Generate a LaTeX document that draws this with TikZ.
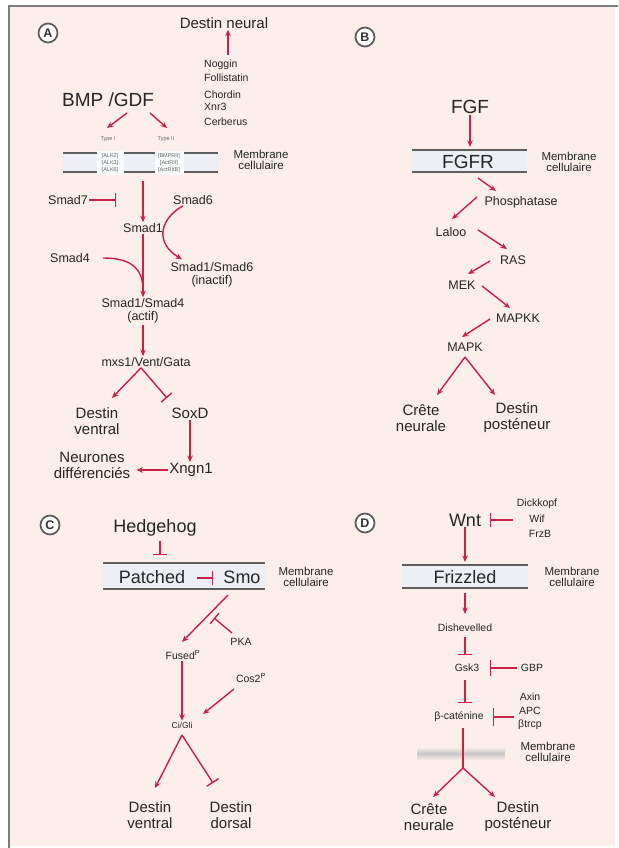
\documentclass[tikz,border=0pt]{standalone}
\usepackage{fontspec}
\setmainfont{Liberation Sans}
\usetikzlibrary{arrows.meta,calc}
\definecolor{bgc}{RGB}{252,238,234}
\definecolor{rd}{RGB}{204,32,72}
\definecolor{tx}{RGB}{38,38,38}
\definecolor{memf}{RGB}{236,239,243}
\definecolor{meml}{RGB}{95,95,95}
\definecolor{frm}{RGB}{125,125,125}
\begin{document}
\begin{tikzpicture}[x=1pt,y=-1pt,
 lab/.style={text=tx,inner sep=1pt,align=center},
 fA/.style={lab,font=\fontsize{19}{21}\selectfont},
 fB/.style={lab,font=\fontsize{15}{16}\selectfont},
 fC/.style={lab,font=\fontsize{12.5}{13.5}\selectfont},
 fD/.style={lab,font=\fontsize{10.5}{12}\selectfont},
 fE/.style={lab,font=\fontsize{8.5}{10}\selectfont},
 fM/.style={lab,font=\fontsize{11.5}{10.5}\selectfont},
 fS/.style={lab,inner sep=0.5pt,font=\fontsize{5.5}{6}\selectfont,text=black!60},
 circlab/.style={circle,draw=black!65,line width=1.7pt,fill=white,minimum size=19pt,inner sep=0pt,text=black!80,font=\bfseries\fontsize{12.5}{12.5}\selectfont},
 arr/.style={draw=rd,line width=1.4pt,-{Stealth[length=6.5pt,width=5.5pt]}},
 inh/.style={draw=rd,line width=1.4pt,-{Bar[width=14pt]}},
 lin/.style={draw=rd,line width=1.4pt},
 memline/.style={draw=meml,line width=1.4pt},
]
\useasboundingbox (0,0) rectangle (618,848);
\fill[white] (0,0) rectangle (618,848);
\fill[bgc] (9,6) rectangle (615,846);
\draw[frm,line width=2.5pt] (9,848) -- (9,6) -- (618,6);

% ================= Panel A =================
\node[circlab] (cA) at (48,33) {A};
\node[fB] (dn) at (224,23) {Destin neural};
\node[fD,anchor=west] (nog) at (203,65) {Noggin};
\node[fD,anchor=west] (fol) at (203,78) {Follistatin};
\node[fD,anchor=west] (cho) at (203,95) {Chordin};
\node[fD,anchor=west] (xnr) at (203,107) {Xnr3};
\node[fD,anchor=west] (cer) at (203,122) {Cerberus};
\coordinate (nogtop) at (228,55);
\draw[arr] (nogtop) -- (dn.south -| nogtop);

\node[fA] (bmp) at (108,100) {BMP /GDF};
\coordinate (bl1) at (127,113); \coordinate (bl2) at (107,128);
\coordinate (br1) at (150,113); \coordinate (br2) at (167,128);
\draw[arr] (bl1) -- (bl2);
\draw[arr] (br1) -- (br2);

\fill[memf] (63,153) rectangle (218,172);
\draw[memline] (63,153) -- (218,153) (63,172) -- (218,172);
\fill[white!70!memf] (97,151) rectangle (124,175);
\fill[white!70!memf] (155,151) rectangle (184,175);
\node[fS] (ti) at (108,139) {Type I};
\node[fS] (tii) at (166,139) {Type II};
\node[fS] (r11) at (110,156) {[ALK2]};
\node[fS] (r12) at (110,163) {[ALK3]};
\node[fS] (r13) at (110,170) {[ALK6]};
\node[fS] (r21) at (169,156) {[BMPRII]};
\node[fS] (r22) at (169,163) {[ActRII]};
\node[fS] (r23) at (169,170) {[ActRIIB]};
\node[fM] (mcA) at (261,160) {Membrane\\cellulaire};

\node[fC] (s7) at (68,200) {Smad7};
\node[fC] (s6) at (193,200) {Smad6};
\node[fC] (s1) at (143,228) {Smad1};
\node[fC] (s16) at (212,275) {Smad1/Smad6\\(inactif)};
\node[fC] (s4) at (70,258) {Smad4};
\node[fC] (s14) at (143,311) {Smad1/Smad4\\(actif)};
\node[fC] (msx) at (146,362) {mxs1/Vent/Gata};
\node[fB] (dvA) at (97,421) {Destin\\ventral};
\node[fB] (sox) at (190,413) {SoxD};
\node[fB] (xn) at (191,470) {Xngn1};
\node[fB] (neu) at (92,465) {Neurones\\différenciés};

\coordinate (s7e) at (116,200);
\draw[inh] (s7.east) -- (s7e);
\coordinate (memAb) at (143,181);
\draw[arr] (memAb) -- (s1.north);
\draw[arr] ($(s6.south)+(-10,0)$) .. controls (158,220) and (156,244) .. ($(s16.north)+(-30,-2)$);
\draw[arr] (s1.south) -- (s14.north);
\draw[lin] ($(s4.east)+(12,0)$) .. controls (128,258) and (143,266) .. (143,290);
\draw[arr] (s14.south) -- (s14.south |- msx.north);
\coordinate (dvAt) at (112,398);
\coordinate (soxb) at (167,398);
\draw[arr] ($(msx.south)+(-5,0)$) -- (dvAt);
\draw[inh] ($(msx.south)+(-5,0)$) -- (soxb);
\draw[arr] (sox.south) -- (sox.south |- xn.north);
\draw[arr] (xn.west) -- ($(neu.east |- xn.west)+(5,0)$);

% ================= Panel B =================
\node[circlab] (cB) at (365,37) {B};
\node[fA] (fgf) at (470,107) {FGF};
\fill[memf] (412,150) rectangle (527,172);
\draw[memline] (412,150) -- (527,150) (412,172) -- (527,172);
\node[fA] (fgfr) at (468,162) {FGFR};
\node[fM] (mcB) at (569,162) {Membrane\\cellulaire};
\node[fC] (pho) at (521,202) {Phosphatase};
\node[fC] (lal) at (451,232) {Laloo};
\node[fC] (ras) at (513,260) {RAS};
\node[fC] (mek) at (462,285) {MEK};
\node[fC] (mapkk) at (518,318) {MAPKK};
\node[fC] (mapk) at (465,347) {MAPK};
\node[fB] (creB) at (421,418) {Crête\\neurale};
\node[fB] (desB) at (517,418) {Destin\\posténeur};

\coordinate (fgfm) at (470,147);
\draw[arr] (fgf.south) -- (fgfm);
\coordinate (f1s) at (478,178); \coordinate (f1e) at (496,191);
\draw[arr] (f1s) -- (f1e);
\coordinate (p1s) at (477,197); \coordinate (p1e) at (452,219);
\draw[arr] (p1s) -- (p1e);
\coordinate (l1s) at (478,230); \coordinate (l1e) at (507,249);
\draw[arr] (l1s) -- (l1e);
\coordinate (r1s) at (490,261); \coordinate (r1e) at (468,274);
\draw[arr] (r1s) -- (r1e);
\coordinate (m1s) at (482,286); \coordinate (m1e) at (510,308);
\draw[arr] (m1s) -- (m1e);
\coordinate (k1s) at (490,319); \coordinate (k1e) at (462,337);
\draw[arr] (k1s) -- (k1e);
\coordinate (mkB) at (465,357);
\coordinate (cbE) at (437,395); \coordinate (dbE) at (495,395);
\draw[arr] (mkB) -- (cbE);
\draw[arr] (mkB) -- (dbE);

% ================= Panel C =================
\node[circlab] (cC) at (50,525) {C};
\node[fA,font=\fontsize{18}{20}\selectfont] (hh) at (155,528) {Hedgehog};
\fill[memf] (103,563) rectangle (265,589);
\draw[memline] (103,563) -- (265,563) (103,589) -- (265,589);
\node[fA,font=\fontsize{18}{20}\selectfont] (pat) at (152,577) {Patched};
\node[fA,font=\fontsize{18}{20}\selectfont] (smo) at (242,577) {Smo};
\node[fM] (mcC) at (306,577) {Membrane\\cellulaire};
\node[fD] (pka) at (241,642) {PKA};
\node[fD] (fus) at (183,655) {Fused\textsuperscript{P}};
\node[fD] (cos) at (251,678) {Cos2\textsuperscript{P}};
\node[fE] (ci) at (182,725) {Ci/Gli};
\node[fB] (dvC) at (150,815) {Destin\\ventral};
\node[fB] (ddC) at (231,815) {Destin\\dorsal};

\coordinate (hhs) at (160,541); \coordinate (hhb) at (160,555);
\draw[inh] (hhs) -- (hhb);
\coordinate (pas) at (197,578); \coordinate (pab) at (213,578);
\draw[inh] (pas) -- (pab);
\coordinate (smos) at (228,595); \coordinate (fuse) at (182,642);
\draw[arr] (smos) -- (fuse);
\coordinate (pkas) at (232,633); \coordinate (pkab) at (214,618);
\draw[inh] (pkas) -- (pkab);
\draw[arr,line width=1.8pt] (fus.south -| ci.north) -- (ci.north);
\coordinate (coss) at (234,689); \coordinate (cose) at (203,714);
\draw[arr] (coss) -- (cose);
\coordinate (cis) at (182,735);
\coordinate (dvCe) at (155,788); \coordinate (ddCb) at (213,783);
\draw[arr] (cis) -- (dvCe);
\draw[inh] (cis) -- (ddCb);

% ================= Panel D =================
\node[circlab] (cD) at (365,523) {D};
\node[fA,font=\fontsize{18}{20}\selectfont] (wnt) at (465,520) {Wnt};
\node[fD] (dic) at (537,504) {Dickkopf};
\node[fD] (wif) at (537,519) {Wif};
\node[fD] (frz) at (540,534) {FrzB};
\fill[memf] (402,565) rectangle (528,588);
\draw[memline] (402,565) -- (528,565) (402,588) -- (528,588);
\node[fA,font=\fontsize{18}{20}\selectfont] (friz) at (465,577) {Frizzled};
\node[fM] (mcD) at (572,577) {Membrane\\cellulaire};
\node[fD] (dis) at (465,628) {Dishevelled};
\node[fD] (gsk) at (467,668) {Gsk3};
\node[fD] (gbp) at (532,668) {GBP};
\node[fD] (bcat) at (459,717) {β-caténine};
\node[fD] (axin) at (530,697) {Axin};
\node[fD] (apc) at (530,711) {APC};
\node[fD] (btr) at (530,725) {βtrcp};
\shade[top color=bgc,bottom color=bgc,middle color=black!22] (417,747) rectangle (505,760);
\node[fM] (mcD2) at (548,752) {Membrane\\cellulaire};
\node[fB] (creD) at (429,817) {Crête\\neurale};
\node[fB] (desD) at (518,817) {Destin\\posténeur};

\coordinate (wis) at (513,520); \coordinate (wib) at (490,520);
\draw[inh] (wis) -- (wib);
\coordinate (wntm) at (465,562);
\draw[arr] (wnt.south) -- (wntm);
\coordinate (frb) at (465,593); \coordinate (dise) at (465,614);
\draw[arr] (frb) -- (dise);
\coordinate (diss) at (465,637); \coordinate (disb) at (465,655);
\draw[inh] (diss) -- (disb);
\coordinate (gbps) at (517,668); \coordinate (gbpb) at (490,668);
\draw[inh,-{Bar[width=16pt]}] (gbps) -- (gbpb);
\coordinate (gsks) at (465,680); \coordinate (gskb) at (465,703);
\draw[inh] (gsks) -- (gskb);
\coordinate (axs) at (514,717); \coordinate (axb) at (493,717);
\draw[inh,-{Bar[width=18pt]}] (axs) -- (axb);
\coordinate (bcs) at (463,728); \coordinate (split) at (463,768);
\draw[lin] (bcs) -- (split);
\coordinate (cdE) at (433,797); \coordinate (ddE) at (495,797);
\draw[arr] (split) -- (cdE);
\draw[arr] (split) -- (ddE);
\end{tikzpicture}
\end{document}
